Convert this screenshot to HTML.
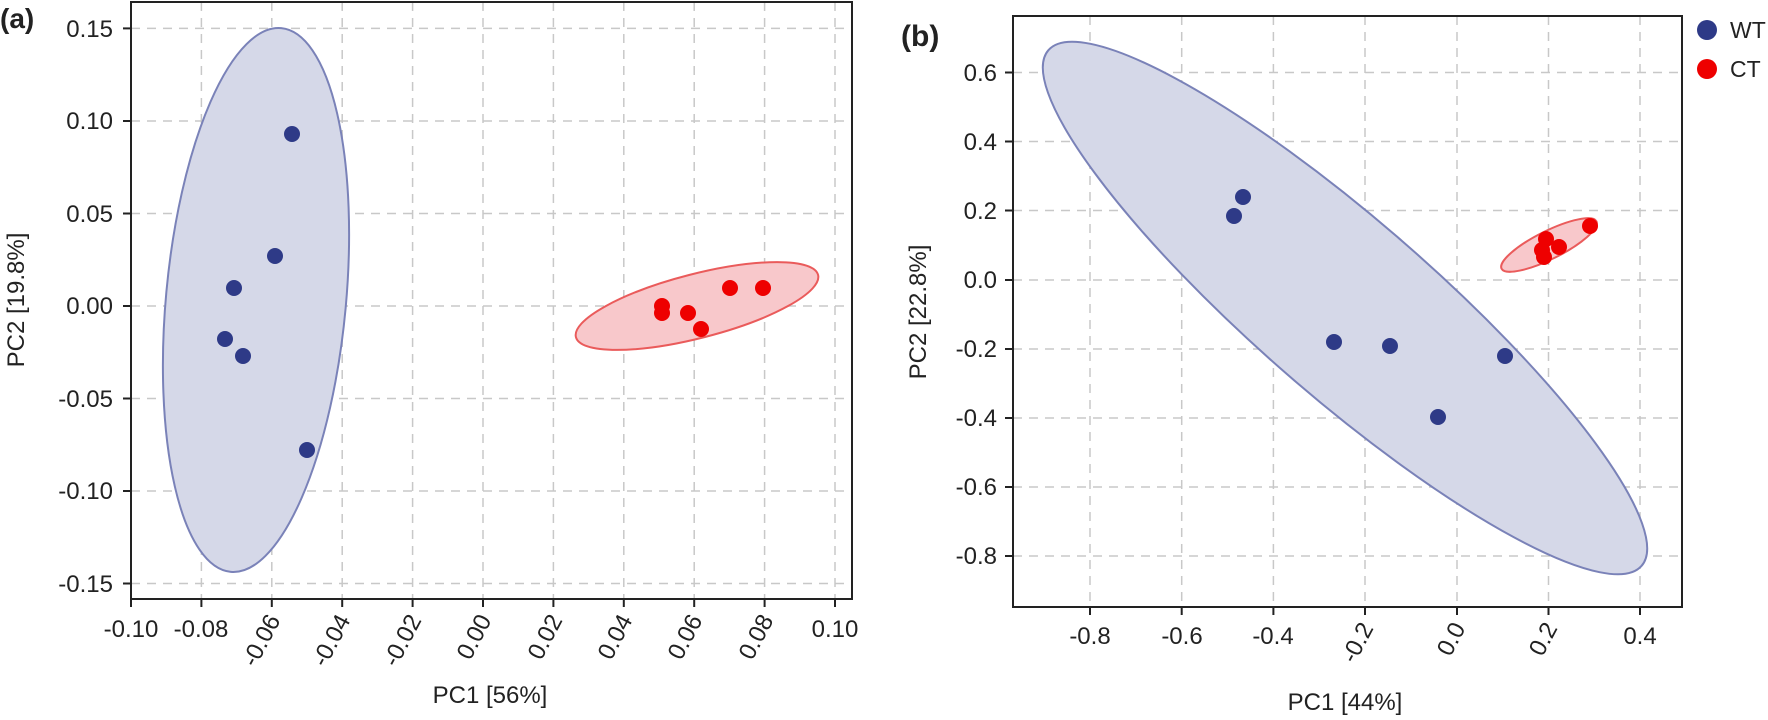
<!DOCTYPE html>
<html><head><meta charset="utf-8"><style>body{margin:0;background:#fff}svg{display:block}text{font-family:"Liberation Sans",sans-serif;fill:#222}</style></head><body>
<svg width="1768" height="720" viewBox="0 0 1768 720" xmlns="http://www.w3.org/2000/svg">
<!-- Panel a -->
<g stroke="#c8c8c8" stroke-width="1.5" stroke-dasharray="9,7">
<line x1="131" y1="28.4" x2="852" y2="28.4"/><line x1="131" y1="121" x2="852" y2="121"/><line x1="131" y1="213.5" x2="852" y2="213.5"/><line x1="131" y1="306" x2="852" y2="306"/><line x1="131" y1="398.5" x2="852" y2="398.5"/><line x1="131" y1="491" x2="852" y2="491"/><line x1="131" y1="583.5" x2="852" y2="583.5"/>
<line x1="201.4" y1="2" x2="201.4" y2="599"/><line x1="271.8" y1="2" x2="271.8" y2="599"/><line x1="342.2" y1="2" x2="342.2" y2="599"/><line x1="412.6" y1="2" x2="412.6" y2="599"/><line x1="483" y1="2" x2="483" y2="599"/><line x1="553.4" y1="2" x2="553.4" y2="599"/><line x1="623.8" y1="2" x2="623.8" y2="599"/><line x1="694.2" y1="2" x2="694.2" y2="599"/><line x1="764.6" y1="2" x2="764.6" y2="599"/><line x1="835" y1="2" x2="835" y2="599"/>
</g>
<ellipse cx="256" cy="300" rx="90" ry="273" transform="rotate(5.3 256 300)" fill="#d5d8e8" stroke="#7a82b8" stroke-width="2"/>
<ellipse cx="697" cy="306" rx="125" ry="32" transform="rotate(-14.4 697 306)" fill="#f8c8cb" stroke="#ea5b5b" stroke-width="2"/>
<g fill="#2e3a87"><circle cx="292" cy="134" r="8"/><circle cx="275" cy="256" r="8"/><circle cx="234" cy="288" r="8"/><circle cx="225" cy="339" r="8"/><circle cx="243" cy="356" r="8"/><circle cx="307" cy="450" r="8"/></g>
<g fill="#ee0000"><circle cx="662" cy="306" r="8"/><circle cx="662" cy="313" r="8"/><circle cx="688" cy="313" r="8"/><circle cx="701" cy="329" r="8"/><circle cx="730" cy="288" r="8"/><circle cx="763" cy="288" r="8"/></g>
<rect x="131" y="2" width="721" height="597" fill="none" stroke="#222" stroke-width="2"/>
<g stroke="#222" stroke-width="2">
<line x1="123" y1="28.4" x2="131" y2="28.4"/><line x1="123" y1="121" x2="131" y2="121"/><line x1="123" y1="213.5" x2="131" y2="213.5"/><line x1="123" y1="306" x2="131" y2="306"/><line x1="123" y1="398.5" x2="131" y2="398.5"/><line x1="123" y1="491" x2="131" y2="491"/><line x1="123" y1="583.5" x2="131" y2="583.5"/>
<line x1="131" y1="599" x2="131" y2="607"/><line x1="201.4" y1="599" x2="201.4" y2="607"/><line x1="271.8" y1="599" x2="271.8" y2="607"/><line x1="342.2" y1="599" x2="342.2" y2="607"/><line x1="412.6" y1="599" x2="412.6" y2="607"/><line x1="483" y1="599" x2="483" y2="607"/><line x1="553.4" y1="599" x2="553.4" y2="607"/><line x1="623.8" y1="599" x2="623.8" y2="607"/><line x1="694.2" y1="599" x2="694.2" y2="607"/><line x1="764.6" y1="599" x2="764.6" y2="607"/><line x1="835" y1="599" x2="835" y2="607"/>
</g>
<g font-size="24" text-anchor="end">
<text x="113" y="37">0.15</text><text x="113" y="129">0.10</text><text x="113" y="222">0.05</text><text x="113" y="314">0.00</text><text x="113" y="407">-0.05</text><text x="113" y="499">-0.10</text><text x="113" y="592">-0.15</text>
</g>
<g font-size="24" text-anchor="middle"><text x="131" y="637">-0.10</text><text x="201" y="637">-0.08</text><text x="835" y="637">0.10</text></g>
<g font-size="24" text-anchor="end">
<text transform="translate(281,620) rotate(-62)">-0.06</text><text transform="translate(351,620) rotate(-62)">-0.04</text><text transform="translate(422,620) rotate(-62)">-0.02</text><text transform="translate(492,620) rotate(-62)">0.00</text><text transform="translate(563,620) rotate(-62)">0.02</text><text transform="translate(633,620) rotate(-62)">0.04</text><text transform="translate(703,620) rotate(-62)">0.06</text><text transform="translate(774,620) rotate(-62)">0.08</text>
</g>
<text x="490" y="703" font-size="24" text-anchor="middle">PC1 [56%]</text>
<text transform="translate(24,300) rotate(-90)" font-size="24" text-anchor="middle">PC2 [19.8%]</text>
<text x="0" y="28" font-size="28" font-weight="bold">(a)</text>
<!-- Panel b -->
<g stroke="#c8c8c8" stroke-width="1.5" stroke-dasharray="9,7">
<line x1="1013" y1="72.5" x2="1682" y2="72.5"/><line x1="1013" y1="141.5" x2="1682" y2="141.5"/><line x1="1013" y1="210.5" x2="1682" y2="210.5"/><line x1="1013" y1="280" x2="1682" y2="280"/><line x1="1013" y1="349" x2="1682" y2="349"/><line x1="1013" y1="418" x2="1682" y2="418"/><line x1="1013" y1="487" x2="1682" y2="487"/><line x1="1013" y1="556" x2="1682" y2="556"/>
<line x1="1090" y1="16" x2="1090" y2="607"/><line x1="1181.7" y1="16" x2="1181.7" y2="607"/><line x1="1273.4" y1="16" x2="1273.4" y2="607"/><line x1="1365" y1="16" x2="1365" y2="607"/><line x1="1457" y1="16" x2="1457" y2="607"/><line x1="1548.5" y1="16" x2="1548.5" y2="607"/><line x1="1640" y1="16" x2="1640" y2="607"/>
</g>
<ellipse cx="1345" cy="308" rx="393" ry="88" transform="rotate(41 1345 308)" fill="#d5d8e8" stroke="#7a82b8" stroke-width="2"/>
<ellipse cx="1549" cy="245" rx="53" ry="14" transform="rotate(-26.5 1549 245)" fill="#f8c8cb" stroke="#ea5b5b" stroke-width="2"/>
<g fill="#2e3a87"><circle cx="1243" cy="197" r="8"/><circle cx="1234" cy="216" r="8"/><circle cx="1334" cy="342" r="8"/><circle cx="1390" cy="346" r="8"/><circle cx="1505" cy="356" r="8"/><circle cx="1438" cy="417" r="8"/></g>
<g fill="#ee0000"><circle cx="1590" cy="226" r="8"/><circle cx="1546" cy="239" r="8"/><circle cx="1559" cy="247" r="8"/><circle cx="1542" cy="250" r="8"/><circle cx="1544" cy="257" r="8"/></g>
<rect x="1013" y="16" width="669" height="591" fill="none" stroke="#222" stroke-width="2"/>
<g stroke="#222" stroke-width="2">
<line x1="1005" y1="72.5" x2="1013" y2="72.5"/><line x1="1005" y1="141.5" x2="1013" y2="141.5"/><line x1="1005" y1="210.5" x2="1013" y2="210.5"/><line x1="1005" y1="280" x2="1013" y2="280"/><line x1="1005" y1="349" x2="1013" y2="349"/><line x1="1005" y1="418" x2="1013" y2="418"/><line x1="1005" y1="487" x2="1013" y2="487"/><line x1="1005" y1="556" x2="1013" y2="556"/>
<line x1="1090" y1="607" x2="1090" y2="615"/><line x1="1181.7" y1="607" x2="1181.7" y2="615"/><line x1="1273.4" y1="607" x2="1273.4" y2="615"/><line x1="1365" y1="607" x2="1365" y2="615"/><line x1="1457" y1="607" x2="1457" y2="615"/><line x1="1548.5" y1="607" x2="1548.5" y2="615"/><line x1="1640" y1="607" x2="1640" y2="615"/>
</g>
<g font-size="24" text-anchor="end">
<text x="997" y="81">0.6</text><text x="997" y="150">0.4</text><text x="997" y="219">0.2</text><text x="997" y="288">0.0</text><text x="997" y="357">-0.2</text><text x="997" y="426">-0.4</text><text x="997" y="495">-0.6</text><text x="997" y="564">-0.8</text>
</g>
<g font-size="24" text-anchor="middle"><text x="1090" y="644">-0.8</text><text x="1182" y="644">-0.6</text><text x="1273" y="644">-0.4</text><text x="1640" y="644">0.4</text></g>
<g font-size="24" text-anchor="end">
<text transform="translate(1374,628) rotate(-62)">-0.2</text><text transform="translate(1466,628) rotate(-62)">0.0</text><text transform="translate(1558,628) rotate(-62)">0.2</text>
</g>
<text x="1345" y="710" font-size="24" text-anchor="middle">PC1 [44%]</text>
<text transform="translate(926,312) rotate(-90)" font-size="24" text-anchor="middle">PC2 [22.8%]</text>
<text x="901" y="46" font-size="30" font-weight="bold">(b)</text>
<circle cx="1707" cy="30" r="10" fill="#2e3a87"/><text x="1730" y="38" font-size="23" fill="#555">WT</text>
<circle cx="1707" cy="69" r="10" fill="#ee0000"/><text x="1730" y="77" font-size="23" fill="#555">CT</text>
</svg>
</body></html>
